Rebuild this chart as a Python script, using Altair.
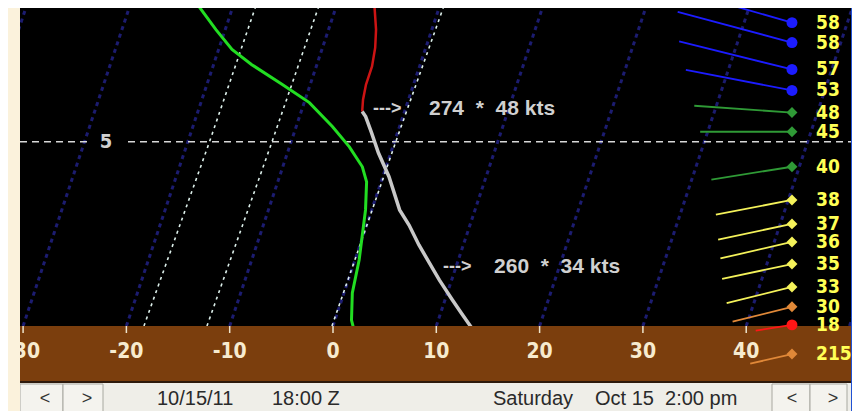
import altair as alt
import pandas as pd

# ---------------- data ----------------
SKEW = 1.19  # deg C of skew per height unit

iso_temps = [-40, -30, -20, -10, 0, 10, 20, 30, 40, 50]
axis_ticks = [-30, -20, -10, 0, 10, 20, 30, 40]

mix_levels = [0.0, 5.0, 8.67]
mix_a = [-18.3, -17.9, -17.8]
mix_b = [-12.2, -11.85, -11.7]
mix_c = [-0.1, 0.13, 0.4]

dew_h = [8.67, 8.04, 7.5, 7.09, 6.55, 6.06, 5.41, 4.86, 4.32, 3.91, 3.15, 1.79, 0.9, 0.16, -0.03]
dew_t = [-23.3, -20.9, -18.7, -16.3, -12.7, -9.5, -6.5, -4.2, -2.3, -1.4, -0.6, 0.4, 0.8, 1.6, 2.0]

aloft_h = [8.67, 8.04, 7.55, 7.04, 6.55, 6.14, 5.82]
aloft_t = [-6.3, -5.4, -4.9, -4.6, -4.6, -4.4, -4.1]

mixed_h = [5.82, 5.68, 5.24, 4.7, 4.05, 3.15, 2.74, 2.2, 1.74, 1.25, 0.71, 0.35, -0.03]
mixed_t = [-4.1, -3.6, -2.5, -1.2, 0.6, 2.7, 4.1, 5.7, 7.2, 8.8, 10.7, 12.0, 13.4]

wind_h = [8.23, 7.69, 6.96, 6.39, 5.79, 5.27, 4.32, 3.42, 2.77, 2.28, 1.68, 1.06, 0.52, 0.03, -0.76]
wind_spd = [58, 58, 57, 53, 48, 45, 40, 38, 37, 36, 35, 33, 30, 18, 21]
wind_dir = [286, 285, 284, 281, 274, 270, 261, 259, 258, 257, 258, 256, 256, 261, 257]
wind_lbl = ["58", "58", "57", "53", "48", "45", "40", "38", "37", "36", "35", "33", "30", "18", "215"]

ref_level = [5]
ann_h = [5.89, 1.60]
ann_arrow_x = [3.87, 10.65]
ann_text_x = [9.29, 15.59]
ann_text = ["274\u00a0\u00a0*\u00a0\u00a048 kts", "260\u00a0\u00a0*\u00a0\u00a034 kts"]

date_txt = "10/15/11"
zulu_txt = "18:00 Z"
day_txt = "Saturday"
local_txt = "Oct 15\u00a0\u00a02:00 pm"

# ---------------- scales ----------------
W, H = 844, 403
xsc = alt.Scale(domain=[-31.46, 50.24], nice=False, zero=False)
ysc = alt.Scale(domain=[-2.306, 8.627], nice=False, zero=False)
BARB_X = 44.43
LABEL_X = 46.76
PX_PER_DEG = 10.33
PX_PER_H = 36.86


def X(f):
    return alt.X(f, type="quantitative", scale=xsc, axis=None)


def Y(f):
    return alt.Y(f, type="quantitative", scale=ysc, axis=None)


dummy = pd.DataFrame({"k": [0]})
COND = "DejaVu Sans Condensed"
SANS = "Liberation Sans"


def rect(x, x2, y, y2, fill, stroke=None, sw=1):
    kw = dict(fill=fill, opacity=1)
    if stroke:
        kw.update(stroke=stroke, strokeWidth=sw)
    return alt.Chart(dummy).mark_rect(**kw).encode(
        x=alt.value(x), x2=alt.value(x2), y=alt.value(y), y2=alt.value(y2))


def label(x, y, s, size, color, font=SANS, weight="normal", align="left"):
    return alt.Chart(dummy).mark_text(
        text=s, fontSize=size, color=color, font=font, fontWeight=weight,
        align=align, baseline="middle").encode(x=alt.value(x), y=alt.value(y))


skew_expr = f"datum.t + {SKEW}*datum.h"

layers = []
layers.append(rect(12, 844, 0, 318, "#000000"))

# isotherms
iso_df = pd.DataFrame([{"t": t, "h": hh, "id": t} for t in iso_temps for hh in (0.0, 8.9)])
layers.append(
    alt.Chart(iso_df).transform_calculate(xs=skew_expr)
    .mark_line(stroke="#1c1c70", strokeWidth=3, strokeDash=[4, 4], clip=True)
    .encode(x=X("xs"), y=Y("h"), detail="id:N", order="h:Q"))

# dotted guide lines
mix_rows = []
for name, ts in (("a", mix_a), ("b", mix_b), ("c", mix_c)):
    for hh, t in zip(mix_levels, ts):
        mix_rows.append({"t": t, "h": hh, "id": name})
mix_df = pd.DataFrame(mix_rows)
layers.append(
    alt.Chart(mix_df).transform_calculate(xs=skew_expr)
    .mark_line(stroke="#dcefea", strokeWidth=1.6, strokeDash=[3, 4], clip=True)
    .encode(x=X("xs"), y=Y("h"), detail="id:N", order="h:Q"))

# reference level dashed line
ref_df = pd.DataFrame({"h": ref_level})
layers.append(
    alt.Chart(ref_df).mark_rule(color="#d8d8d8", strokeWidth=1.6, strokeDash=[7, 5])
    .encode(y=Y("h"), x=alt.value(12), x2=alt.value(844)))
layers.append(
    alt.Chart(ref_df).transform_calculate(h1="datum.h+0.25", h2="datum.h-0.25")
    .mark_rect(fill="#000000")
    .encode(y=Y("h1"), y2="h2:Q", x=alt.value(82), x2=alt.value(115)))
layers.append(
    alt.Chart(ref_df).transform_calculate(s="'' + datum.h")
    .mark_text(font=COND, fontWeight="bold", fontSize=20, color="#d0d0d0", align="center", baseline="middle")
    .encode(y=Y("h"), x=alt.value(98), text="s:N"))


def profile(hs, ts, color, width):
    df = pd.DataFrame({"i": list(range(len(hs))), "h": hs, "t": ts})
    return (alt.Chart(df).transform_calculate(xs=skew_expr)
            .mark_line(stroke=color, strokeWidth=width, clip=True)
            .encode(x=X("xs"), y=Y("h"), order="i:Q"))


layers.append(profile(dew_h, dew_t, "#22dd22", 3))
layers.append(profile(aloft_h, aloft_t, "#cc1414", 2.5))
layers.append(profile(mixed_h, mixed_t, "#c8c8c8", 3.5))

# annotations
ann_df = pd.DataFrame({"h": ann_h, "ax": ann_arrow_x, "tx": ann_text_x, "txt": ann_text})
layers.append(
    alt.Chart(ann_df).mark_text(text="--->", font=SANS, fontWeight="bold", fontSize=18,
                                color="#d0d0d0", align="left", baseline="middle")
    .encode(x=X("ax"), y=Y("h")))
layers.append(
    alt.Chart(ann_df).mark_text(font=SANS, fontWeight="bold", fontSize=21,
                                color="#d0d0d0", align="left", baseline="middle")
    .encode(x=X("tx"), y=Y("h"), text="txt:N"))

# ground band
layers.append(rect(12, 844, 318, 374, "#7b3e0d"))
layers.append(rect(12, 844, 373, 375, "#2e1a0c"))

tick_df = pd.DataFrame({"t": axis_ticks, "lbl": [str(v) for v in axis_ticks]})
layers.append(
    alt.Chart(tick_df).transform_calculate(h0="0", h1="-0.19")
    .mark_rule(color="#eee4cc", strokeWidth=1.5)
    .encode(x=X("t"), y=Y("h0"), y2="h1:Q"))
layers.append(
    alt.Chart(tick_df).transform_calculate(hl="-0.705")
    .mark_text(font=COND, fontWeight="bold", fontSize=21, color="#f7ebcf", align="center", baseline="middle")
    .encode(x=X("t"), y=Y("hl"), text="lbl:N"))

# wind barbs
wind_df = pd.DataFrame({"h": wind_h, "spd": wind_spd, "dir": wind_dir, "lbl": wind_lbl})
spd_color = alt.Color("spd:Q", legend=None, scale=alt.Scale(
    type="threshold", domain=[20, 31, 40, 50],
    range=["#ff1616", "#e08838", "#f4f25a", "#2f9a36", "#1c1cff"]))
wind_base = alt.Chart(wind_df).transform_calculate(
    bx=f"{BARB_X}",
    lx=f"{LABEL_X}",
    mk="(datum.spd >= 50 || datum.spd < 20) ? 'circle' : 'diamond'",
    tx=f"{BARB_X} + 2.04*datum.spd*sin(datum.dir*PI/180)/{PX_PER_DEG}",
    th=f"datum.h + 2.04*datum.spd*cos(datum.dir*PI/180)/{PX_PER_H}")
layers.append(
    wind_base.mark_rule(strokeWidth=1.8, clip=True)
    .encode(x=X("bx"), x2="tx:Q", y=Y("h"), y2="th:Q", color=spd_color))
layers.append(
    wind_base.mark_point(filled=True, size=120, opacity=1)
    .encode(x=X("bx"), y=Y("h"), color=spd_color, shape=alt.Shape("mk:N", scale=None)))
layers.append(
    wind_base.mark_text(font=COND, fontWeight="bold", fontSize=19, color="#ffff55", align="left", baseline="middle")
    .encode(x=X("lx"), y=Y("h"), text="lbl:N"))

# status bar
layers.append(rect(12, 844, 375, 403, "#efeee8"))
layers.append(rect(12, 55, 376, 404, "#f4f3ee", "#a8a8a0", 1))
layers.append(rect(55, 95, 376, 404, "#f4f3ee", "#a8a8a0", 1))
layers.append(rect(764, 802, 376, 404, "#f4f3ee", "#a8a8a0", 1))
layers.append(rect(802, 839, 376, 404, "#f4f3ee", "#a8a8a0", 1))
layers.append(label(37, 391, "<", 18, "#333333", align="center"))
layers.append(label(79, 391, ">", 18, "#333333", align="center"))
layers.append(label(784, 391, "<", 18, "#333333", align="center"))
layers.append(label(825, 391, ">", 18, "#333333", align="center"))
layers.append(label(149, 391, date_txt, 20, "#2a2a2a"))
layers.append(label(264, 391, zulu_txt, 20, "#2a2a2a"))
layers.append(label(485, 391, day_txt, 20, "#2a2a2a"))
layers.append(label(587, 391, local_txt, 20, "#2a2a2a"))

# window frame
layers.append(rect(0, 12, 0, 403, "#fbf2dc"))
layers.append(rect(843, 844, 0, 403, "#2152d4"))

chart = alt.layer(*layers).properties(
    width=W, height=H, padding=0, autosize="none", background="#fbf2dc"
).configure_view(strokeWidth=0)

chart.save("out.html", embed_options={"renderer": "svg", "actions": False})
